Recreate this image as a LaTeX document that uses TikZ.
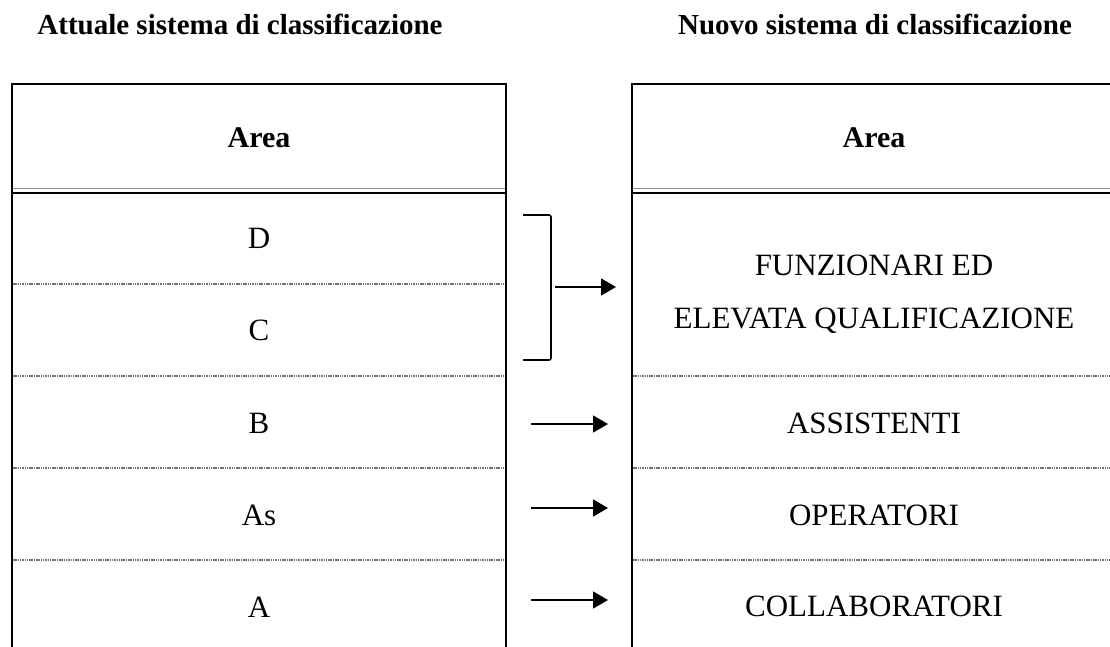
\documentclass[tikz,border=0pt]{standalone}
\usepackage{fontspec}
\setmainfont{Liberation Serif}
\usetikzlibrary{arrows.meta}
\begin{document}
\begin{tikzpicture}[x=1pt,y=-1pt,
  frame/.style={line width=2.2pt, black},
  thin/.style={line width=1pt, black!45},
  sep/.style={line width=1.3pt, black!55, dash pattern=on 1.5pt off 0.8pt},
  body/.style={font=\fontsize{31}{53}\selectfont, align=center, inner sep=0pt, anchor=base},
  head/.style={font=\fontsize{29}{36}\selectfont\bfseries, inner sep=0pt, anchor=base},
  arr/.style={line width=1.6pt, -{Triangle[length=15pt,width=17pt]}},
  brk/.style={line width=1.6pt, rounded corners=2pt},
]
\useasboundingbox (0,0) rectangle (1110,647);

% titles
\node[head] (t1) at (240,35) {Attuale sistema di classificazione};
\node[head] (t2) at (875,34.5) {Nuovo sistema di classificazione};

% left table frame
\draw[frame] (12,84) -- (506,84);
\draw[frame] (12,83) -- (12,647);
\draw[frame] (506,83) -- (506,647);
\draw[thin] (13,189) -- (505,189);
\draw[frame] (13,193.3) -- (505,193.3);
\foreach \y in {284,376,468,560} \draw[sep] (13,\y) -- (505,\y);

% right table frame
\draw[frame] (632,84) -- (1110,84);
\draw[frame] (632,83) -- (632,647);
\draw[thin] (633,189) -- (1110,189);
\draw[frame] (633,193.3) -- (1110,193.3);
\foreach \y in {376,468,560} \draw[sep] (633,\y) -- (1110,\y);

% left texts
\node[head, font=\fontsize{30}{36}\selectfont\bfseries] (la) at (259,148) {Area};
\node[body] (lD) at (259,248.5) {D};
\node[body] (lC) at (259,340.5) {C};
\node[body] (lB) at (259,433) {B};
\node[body] (lAs) at (259,525) {As};
\node[body] (lA) at (259,617) {A};

% right texts
\node[head, font=\fontsize{30}{36}\selectfont\bfseries] (ra) at (874,148) {Area};
\node[body] (rF) at (874,328) {FUNZIONARI ED\\ELEVATA QUALIFICAZIONE};
\node[body] (rB) at (874,433) {ASSISTENTI};
\node[body] (rAs) at (874,525) {OPERATORI};
\node[body] (rA) at (874,616) {COLLABORATORI};

% bracket and arrows
\coordinate (bt) at (523,215);
\coordinate (bb) at (523,360);
\draw[brk] (bt) -- (551,215) -- (551,360) -- (bb);
\coordinate (s1) at (555,287); \coordinate (e1) at (616,287);
\coordinate (s2) at (531,424); \coordinate (e2) at (608,424);
\coordinate (s3) at (531,508); \coordinate (e3) at (608,508);
\coordinate (s4) at (531,600); \coordinate (e4) at (608,600);
\draw[arr] (s1) -- (e1);
\draw[arr] (s2) -- (e2);
\draw[arr] (s3) -- (e3);
\draw[arr] (s4) -- (e4);
\end{tikzpicture}
\end{document}
